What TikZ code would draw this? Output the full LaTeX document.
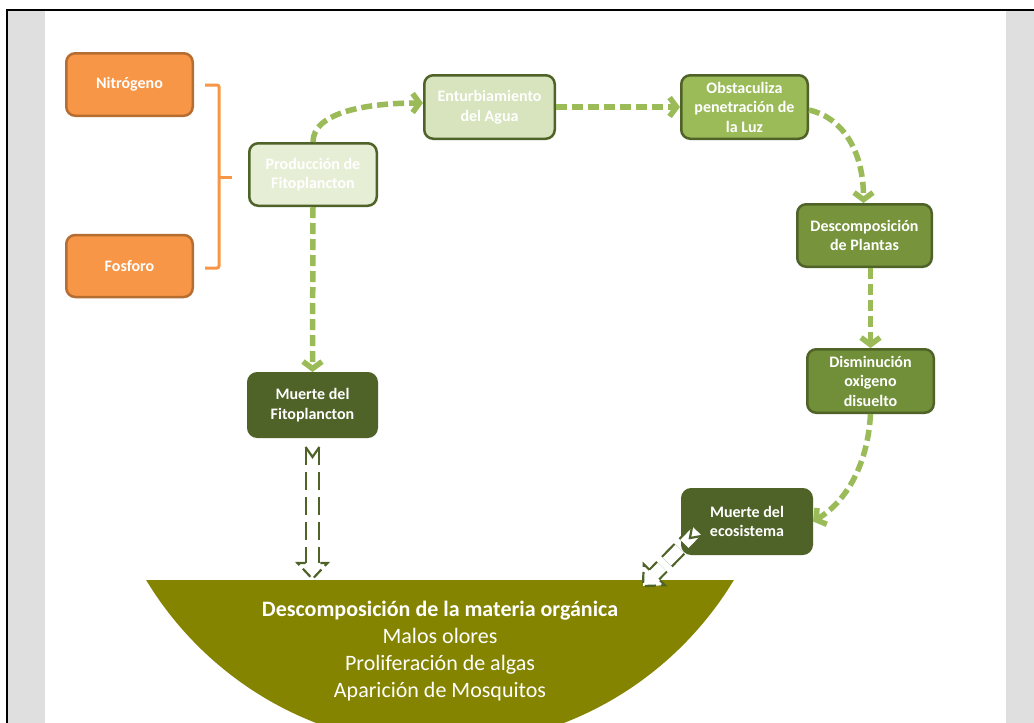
\documentclass[tikz,border=0pt]{standalone}
\usepackage{fontspec}
\setmainfont{Carlito}
\usetikzlibrary{arrows.meta,calc}
\definecolor{orfill}{HTML}{F79646}
\definecolor{ordraw}{HTML}{B66D31}
\definecolor{gdark}{HTML}{4F6228}
\definecolor{gone}{HTML}{E6EED6}
\definecolor{gtwo}{HTML}{D7E4BD}
\definecolor{gthree}{HTML}{9BBB59}
\definecolor{gfour}{HTML}{77933C}
\definecolor{gfive}{HTML}{718E38}
\definecolor{arrowg}{HTML}{9BBB59}
\definecolor{bowlc}{HTML}{848400}
\definecolor{strip}{HTML}{DFDFDF}
\begin{document}
\begin{tikzpicture}[x=1pt,y=-1pt,
  box/.style={draw=gdark, line width=2.5pt, rounded corners=9pt, align=center, text=white, inner sep=0pt,
    font=\fontsize{16}{19.5}\selectfont\bfseries},
  orbox/.style={box, draw=ordraw, fill=orfill},
  garrow/.style={draw=arrowg, line width=5.5pt, dash pattern=on 11pt off 5pt,
    -{Straight Barb[length=7pt,width=19pt]}},
  dbl/.style={draw=gdark, line width=2.2pt, double=white, double distance=11.5pt, dash pattern=on 18pt off 7pt},
  dbltip/.style={draw=gdark, line width=2.2pt, dash pattern=on 11pt off 5pt},
  pics/dbltail/.style={code={\draw[dbltip, solid] (-6.9,0) -- (0,10) -- (6.9,0);}},
  pics/dblhead/.style={code={\filldraw[dbltip, fill=white] (-6.9,-16) -- (-15,-16) -- (0,0) -- (15,-16) -- (6.9,-16);}},
]
\useasboundingbox (0,0) rectangle (1034,723);
\fill[white] (0,0) rectangle (1034,723);
\fill[strip] (8,11) rectangle (45,723);
\fill[strip] (1006,11) rectangle (1034,723);
\draw[black, line width=2.6pt] (7,723) -- (7,10) -- (1034,10);

% bowl
\begin{scope}
  \clip (0,580) rectangle (1034,723);
  \fill[bowlc] (440,403) circle (343);
\end{scope}
\node[font=\fontsize{22}{27.3}\selectfont, text=white, align=center, inner sep=0pt] (bowltext) at (440,651)
  {\textbf{Descomposición de la materia orgánica}\\Malos olores\\Proliferación de algas\\Aparición de Mosquitos};

% nodes
\node[orbox, minimum width=126.5pt, minimum height=62.5pt] (ni) at (129.5,84.5) {Nitrógeno};
\node[orbox, minimum width=126.5pt, minimum height=62pt] (fo) at (129.5,266) {Fosforo};
\node[box, fill=gone, minimum width=127.5pt, minimum height=62.5pt] (pf) at (313,174.5) {Producción de\\Fitoplancton};
\node[box, fill=gtwo, minimum width=130.5pt, minimum height=63.5pt] (ea) at (489.5,107) {Enturbiamiento\\del Agua};
\node[box, fill=gthree, minimum width=126.5pt, minimum height=63.5pt] (ol) at (744.5,107) {Obstaculiza\\penetración de\\la Luz};
\node[box, fill=gfour, minimum width=134.5pt, minimum height=62.5pt] (dp) at (864.5,235.5) {Descomposición\\de Plantas};
\node[box, fill=gfive, minimum width=126.5pt, minimum height=63.5pt] (do) at (870.5,381) {Disminución\\oxigeno\\disuelto};
\node[box, fill=gdark, minimum width=129.5pt, minimum height=64.5pt] (me) at (747,521.5) {Muerte del\\ecosistema};
\node[box, fill=gdark, minimum width=128.5pt, minimum height=63.5pt] (mf) at (312.5,405) {Muerte del\\Fitoplancton};

% bracket
\draw[orfill, line width=3pt, rounded corners=2pt] (205,85) -- (219,85) -- (219,268) -- (205,268);
\draw[orfill, line width=3pt] (219,177) -- (232,177);

% green arrows
\draw[garrow] (pf.north) .. controls +(0,-30) and +(-55,0) .. ([yshift=4pt]ea.west);
\draw[garrow] (ea.east) -- (ol.west);
\draw[garrow] ([yshift=-3pt]ol.east) .. controls +(35,8) and +(0,-50) .. ([xshift=-1pt]dp.north);
\draw[garrow] (do.north |- dp.south) -- (do.north);
\draw[garrow] (do.south) .. controls +(-3,55) and +(30,-18) .. (me.east);
\draw[garrow] (pf.south) -- (mf.north);

% double dashed arrows
\coordinate (la) at ($(mf.south)+(0,9)$);
\coordinate (lb) at (312.5,579);
\draw[dbl] (la) -- ($(lb)!15pt!(la)$);
\pic at (la) {dbltail};
\pic at (lb) {dblhead};

\coordinate (ra) at (697,531);
\coordinate (rb) at (643,586);
\draw[dbl] (ra) -- ($(rb)!15pt!(ra)$);
\pic[rotate=-45] at (ra) {dbltail};
\pic[rotate=-45] at (rb) {dblhead};
\end{tikzpicture}
\end{document}
